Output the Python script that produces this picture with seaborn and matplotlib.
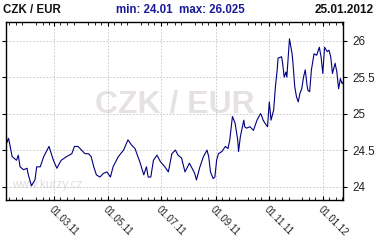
import matplotlib
matplotlib.use("Agg")
import matplotlib.pyplot as plt
import matplotlib.dates as mdates
import seaborn as sns
import pandas as pd
import numpy as np

# ---- data ----
start_date = "2011-01-05"
day_offsets = [0, 1, 3, 7, 12, 14, 16, 20, 24, 25, 29, 33, 35, 39, 43, 49, 54, 58, 61, 63,
               69, 75, 78, 82, 86, 90, 94, 97, 100, 103, 107, 111, 115, 119, 122, 128, 134,
               139, 143, 147, 153, 157, 160, 162, 165, 168, 172, 176, 181, 185, 189, 193,
               196, 200, 204, 209, 212, 215, 217, 221, 225, 229, 231, 233, 236, 238, 240,
               242, 246, 250, 253, 255, 258, 261, 264, 265, 267, 271, 272, 274, 278, 282,
               286, 290, 291, 293, 295, 298, 300, 302, 305, 307, 309, 310, 314, 315, 317,
               319, 320, 323, 326, 327, 329, 331, 333, 335, 337, 339, 341, 343, 344, 346,
               348, 351, 354, 357, 359, 361, 363, 366, 368, 370, 372, 375, 377, 379, 381,
               383, 384]
rates = [24.80, 24.60, 24.66, 24.41, 24.36, 24.43, 24.27, 24.23, 24.25, 24.18, 24.01, 24.09,
         24.27, 24.27, 24.41, 24.55, 24.36, 24.25, 24.32, 24.36, 24.41, 24.45, 24.55, 24.55,
         24.50, 24.45, 24.45, 24.41, 24.27, 24.16, 24.13, 24.18, 24.20, 24.13, 24.27, 24.41,
         24.50, 24.64, 24.57, 24.52, 24.32, 24.16, 24.27, 24.13, 24.13, 24.36, 24.43, 24.34,
         24.27, 24.20, 24.45, 24.50, 24.43, 24.39, 24.20, 24.32, 24.25, 24.18, 24.09, 24.27,
         24.41, 24.50, 24.41, 24.20, 24.11, 24.13, 24.36, 24.45, 24.48, 24.55, 24.52, 24.64,
         24.96, 24.87, 24.64, 24.48, 24.68, 24.91, 24.82, 24.80, 24.82, 24.77, 24.91, 25.00,
         24.98, 24.91, 24.87, 24.82, 25.16, 24.91, 25.05, 25.37, 25.60, 25.76, 25.78, 25.71,
         25.50, 25.57, 25.50, 26.025, 25.82, 25.69, 25.37, 25.23, 25.16, 25.28, 25.34, 25.50,
         25.60, 25.39, 25.32, 25.30, 25.60, 25.82, 25.80, 25.91, 25.78, 25.55, 25.91, 25.85,
         25.87, 25.78, 25.55, 25.69, 25.57, 25.34, 25.48, 25.41, 25.43]
y_ticks = [24, 24.5, 25, 25.5, 26]
y_tick_labels = ["24", "24.5", "25", "25.5", "26"]
x_tick_dates = ["2011-03-01", "2011-05-01", "2011-07-01", "2011-09-01", "2011-11-01", "2012-01-01"]
title_left = "CZK / EUR"
title_mid = "min: 24.01  max: 26.025"
title_right = "25.01.2012"
watermark = "CZK / EUR"
site = "www.kurzy.cz"

df = pd.DataFrame({
    "date": pd.to_datetime(start_date) + pd.to_timedelta(day_offsets, unit="D"),
    "rate": rates,
})

sns.set_theme(style="white")
plt.rcParams["font.family"] = ["Liberation Sans", "DejaVu Sans"]

fig = plt.figure(figsize=(3.77, 2.47), dpi=100)
ax = fig.add_axes([6 / 377, 47 / 247, 337 / 377, 178 / 247])

sns.lineplot(data=df, x="date", y="rate", ax=ax, color="#000080", linewidth=0.8)

ax.set_xlim(pd.Timestamp("2011-01-05"), pd.Timestamp("2012-01-24"))
ax.set_ylim(23.815, 26.256)
ax.set_xlabel("")
ax.set_ylabel("")

# grid
ax.set_xticks(pd.to_datetime(x_tick_dates))
ax.xaxis.set_major_formatter(mdates.DateFormatter("%d.%m.%y"))
ax.xaxis.set_minor_locator(mdates.DayLocator(bymonthday=[8, 16, 23]))
ax.set_yticks(y_ticks)
ax.set_yticklabels(y_tick_labels)
ax.grid(True, which="major", color="#c4c4c4", linestyle=(0, (2, 2)), linewidth=0.6)

for s in ax.spines.values():
    s.set_visible(True)
    s.set_color("black")
    s.set_linewidth(1.0)

ax.tick_params(axis="x", which="major", direction="in", length=3, width=0.8,
               top=True, bottom=True, labelsize=7, color="black", pad=3)
ax.tick_params(axis="x", which="minor", direction="in", length=2, width=0.6,
               top=True, bottom=True, color="black")
ax.tick_params(axis="y", which="major", direction="out", length=3, width=0.8,
               left=True, right=True, labelleft=False, labelright=True,
               labelsize=8.4, color="black", pad=4)
for lbl in ax.get_xticklabels():
    lbl.set_rotation(-45)
    lbl.set_ha("left")
    lbl.set_va("top")
    lbl.set_rotation_mode("anchor")
    lbl.set_color("#222222")
for lbl in ax.get_yticklabels():
    lbl.set_color("#222222")

# watermarks
ax.text(0.50, 0.535, watermark, transform=ax.transAxes, fontsize=23, fontweight="bold",
        color="#e6e2e2", ha="center", va="center", zorder=0)
ax.text(0.017, 0.085, site, transform=ax.transAxes, fontsize=8.5,
        color="#e0dede", ha="left", va="center", zorder=0)

# header
fig.text(3 / 377, 1 - 10 / 247, title_left, fontsize=8.3, fontweight="bold",
         color="#111111", ha="left", va="center")
fig.text(180 / 377, 1 - 10 / 247, title_mid, fontsize=8.3, fontweight="bold",
         color="#1a1a99", ha="center", va="center")
fig.text(374 / 377, 1 - 10 / 247, title_right, fontsize=8.5, fontweight="bold",
         color="#111111", ha="right", va="center")

fig.savefig("out.png", dpi=100)
